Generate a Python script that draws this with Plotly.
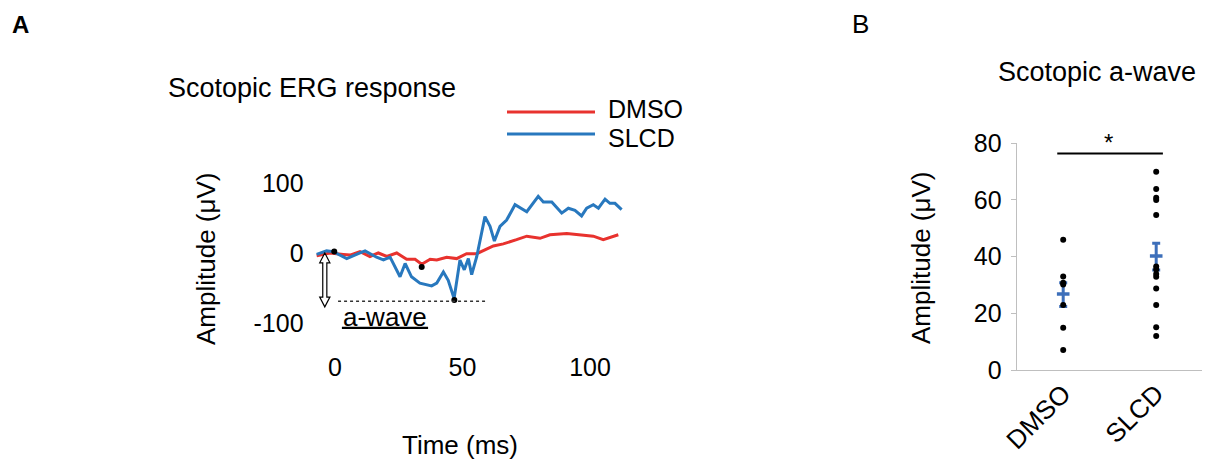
import plotly.graph_objects as go

# ---------------- Panel A data: scotopic ERG traces ----------------
time_slcd = [-7.2, -3.3, -0.7, 4.6, 9.8, 11.8, 16.3, 19.0, 21.6, 25.5, 27.5, 30.0, 33.3,
             37.9, 39.9, 42.5, 44.4, 46.7, 49.0, 50.7, 52.3, 53.6, 55.6, 58.8, 60.8,
             62.5, 64.7, 67.3, 70.6, 75.2, 79.7, 81.7, 85.0, 88.9, 91.5, 94.1, 96.7,
             98.7, 101.3, 103.3, 105.9, 107.8, 109.8, 112.4]
amp_slcd = [-2, 3, 2, -8, 0, 3, -6, -10, -6, -34, -15, -34, -43,
            -47, -43, -27, -39, -65, -10, -24, -8, -31, -5, 52, 38,
            17, 38, 47, 69, 59, 81, 73, 73, 57, 64, 61, 53,
            64, 69, 64, 77, 71, 71, 62]

time_dmso = [-7.2, -2.0, 3.3, 5.9, 9.8, 13.7, 17.0, 20.3, 24.2, 28.1, 31.4, 34.0,
             37.3, 39.9, 43.8, 47.7, 51.6, 55.6, 62.1, 66.0, 71.2, 75.2, 80.4,
             84.3, 90.9, 96.0, 101.3, 105.2, 107.8, 111.1]
amp_dmso = [-4, 0, -2, -3, 2, -5, 0, -5, 0, -9, -9, -16,
            -9, -10, -6, -8, -1, -1, 10, 13, 19, 24, 21,
            26, 28, 26, 24, 19, 22, 26]

mark_t = [-0.3, 34.0, 46.8]
mark_v = [2, -20, -67]
awave_level = -69
a_tickvals = [0, 50, 100]
a_yticks = [-100, 0, 100]
a_yticktext = ["-100", "0", "100"]

# ---------------- Panel B data: a-wave amplitudes ----------------
groups = ["DMSO", "SLCD"]
dmso_vals = [46.0, 33.0, 30.8, 30.2, 22.9, 14.9, 7.1]
slcd_vals = [70.0, 63.9, 60.8, 60.0, 54.7, 36.5, 35.5, 33.9, 32.9, 28.8, 22.9, 15.1, 12.0]
group_means = [26.8, 40.2]
err_plus = [4.0, 4.5]
err_minus = [4.4, 4.9]
b_yticks = [0, 20, 40, 60, 80]
sig_level = 76.4

RED = "#e8322e"
BLUE = "#2878be"
EBLUE = "#3d6fba"
FONT = "Liberation Sans, Arial, sans-serif"
FS = 26      # labels
FT = 27      # titles
FK = 25      # tick labels

# the page adds an 8px body margin, so the figure is drawn 8px smaller
OFF = 8
W, H = 1210 - OFF, 459 - OFF


def px(x):
    return (x - OFF) / W


def py(y):
    return 1 - (y - OFF) / H


fig = go.Figure()

fig.add_trace(go.Scatter(x=time_dmso, y=amp_dmso, mode="lines",
                         line=dict(color=RED, width=3), xaxis="x", yaxis="y",
                         showlegend=False))
fig.add_trace(go.Scatter(x=time_slcd, y=amp_slcd, mode="lines",
                         line=dict(color=BLUE, width=3), xaxis="x", yaxis="y",
                         showlegend=False))
fig.add_trace(go.Scatter(x=mark_t, y=mark_v, mode="markers",
                         marker=dict(color="black", size=6), xaxis="x", yaxis="y",
                         showlegend=False))

# Panel B
fig.add_trace(go.Scatter(x=groups, y=group_means, mode="markers",
                         marker=dict(symbol="line-ew", size=9,
                                     line=dict(color=EBLUE, width=3.5)),
                         error_y=dict(type="data", symmetric=False, array=err_plus,
                                      arrayminus=err_minus, color=EBLUE,
                                      thickness=3, width=4),
                         xaxis="x2", yaxis="y2", showlegend=False))
fig.add_trace(go.Scatter(x=[groups[0]] * len(dmso_vals), y=dmso_vals, mode="markers",
                         marker=dict(color="black", size=6), xaxis="x2", yaxis="y2",
                         showlegend=False))
fig.add_trace(go.Scatter(x=[groups[1]] * len(slcd_vals), y=slcd_vals, mode="markers",
                         marker=dict(color="black", size=6), xaxis="x2", yaxis="y2",
                         showlegend=False))

# double-headed hollow arrow (a-wave amplitude), in data coordinates
xc, hw, sw = -4.0, 2.0, 0.8
top, bot, hh = 0, -77, 14
path = (f"M {xc},{top} L {xc+hw},{top-hh} L {xc+sw},{top-hh} L {xc+sw},{bot+hh} "
        f"L {xc+hw},{bot+hh} L {xc},{bot} L {xc-hw},{bot+hh} L {xc-sw},{bot+hh} "
        f"L {xc-sw},{top-hh} L {xc-hw},{top-hh} Z")

shapes = [
    dict(type="path", path=path, xref="x", yref="y", fillcolor="white",
         line=dict(color="black", width=1.2)),
    dict(type="line", xref="x", yref="y", x0=1.2, x1=59, y0=awave_level, y1=awave_level,
         line=dict(color="#333333", width=1.5, dash="dot")),
    dict(type="line", xref="x", yref="y", x0=2.7, x1=36.5, y0=-107, y1=-107,
         line=dict(color="black", width=2.2)),
    # legend lines
    dict(type="line", xref="paper", yref="paper", x0=px(507), x1=px(595),
         y0=py(112), y1=py(112), line=dict(color=RED, width=3)),
    dict(type="line", xref="paper", yref="paper", x0=px(507), x1=px(595),
         y0=py(134), y1=py(134), line=dict(color=BLUE, width=3)),
    # significance bar
    dict(type="line", xref="x2", yref="y2", x0=-0.064, x1=1.072,
         y0=sig_level, y1=sig_level, line=dict(color="black", width=2)),
]

annotations = [
    dict(text="<b>A</b>", x=px(11), y=py(24), xref="paper", yref="paper",
         xanchor="left", yanchor="middle", showarrow=False, borderpad=0,
         font=dict(size=24, family=FONT, color="black")),
    dict(text="B", x=px(851), y=py(24), xref="paper", yref="paper",
         xanchor="left", yanchor="middle", showarrow=False, borderpad=0,
         font=dict(size=26, family=FONT, color="black")),
    dict(text="Scotopic ERG response", x=px(166), y=py(88), xref="paper", yref="paper",
         xanchor="left", yanchor="middle", showarrow=False,
         font=dict(size=FT, family=FONT, color="black")),
    dict(text="DMSO", x=px(607), y=py(109), xref="paper", yref="paper",
         xanchor="left", yanchor="middle", showarrow=False, borderpad=0,
         font=dict(size=25, family=FONT, color="black")),
    dict(text="SLCD", x=px(607), y=py(138), xref="paper", yref="paper",
         xanchor="left", yanchor="middle", showarrow=False, borderpad=0,
         font=dict(size=25, family=FONT, color="black")),
    dict(text="Amplitude (μV)", x=px(206), y=py(259), xref="paper", yref="paper",
         xanchor="center", yanchor="middle", showarrow=False, textangle=-90,
         font=dict(size=FS, family=FONT, color="black")),
    dict(text="Time (ms)", x=px(460), y=py(445), xref="paper", yref="paper",
         xanchor="center", yanchor="middle", showarrow=False, borderpad=0,
         font=dict(size=FS, family=FONT, color="black")),
    dict(text="a-wave", x=19.6, y=-91, xref="x", yref="y",
         xanchor="center", yanchor="middle", showarrow=False,
         font=dict(size=FS, family=FONT, color="black")),
    dict(text="Scotopic a-wave", x=px(1097), y=py(72), xref="paper", yref="paper",
         xanchor="center", yanchor="middle", showarrow=False,
         font=dict(size=FT, family=FONT, color="black")),
    dict(text="Amplitude (μV)", x=px(921), y=py(258), xref="paper", yref="paper",
         xanchor="center", yanchor="middle", showarrow=False, textangle=-90,
         font=dict(size=FS, family=FONT, color="black")),
    dict(text="*", x=0.49, y=sig_level, xref="x2", yref="y2",
         xanchor="center", yanchor="bottom", showarrow=False, yshift=-4,
         font=dict(size=24, family=FONT, color="black")),
]

fig.update_layout(
    width=W, height=H,
    margin=dict(l=0, r=0, t=0, b=0, pad=0),
    paper_bgcolor="white", plot_bgcolor="white",
    font=dict(family=FONT, size=FS, color="black"),
    showlegend=False,
    xaxis=dict(domain=[px(314.6), px(625.7)], range=[-8, 114], automargin=False,
               tickvals=a_tickvals, showline=False, showgrid=False, zeroline=False,
               ticks="", tickfont=dict(size=FK, color="black"), anchor="y"),
    yaxis=dict(domain=[py(350), py(172.5)], range=[-138.6, 115], automargin=False,
               tickvals=a_yticks, ticktext=a_yticktext,
               showline=False, showgrid=False, zeroline=False,
               ticks="", ticklabelstandoff=10,
               tickfont=dict(size=FK, color="black"), anchor="x"),
    xaxis2=dict(domain=[px(1016.7), px(1202.7)], range=[-0.5, 1.5], automargin=False,
                type="category", categoryorder="array", categoryarray=groups,
                showline=True, linecolor="#bfbfbf", linewidth=1.2, mirror=False,
                showgrid=False, zeroline=False, ticks="", tickangle=-45,
                ticklabelstandoff=-3,
                tickfont=dict(size=FS, color="black"), anchor="y2"),
    yaxis2=dict(domain=[py(370), py(143.3)], range=[0, 80], automargin=False,
                tickvals=b_yticks, showline=True, linecolor="#bfbfbf", linewidth=1.2,
                mirror=True, showgrid=False, zeroline=False, ticks="outside",
                ticklen=5, tickcolor="#bfbfbf", tickwidth=1.2, ticklabelstandoff=4,
                tickfont=dict(size=FK, color="black"), anchor="x2"),
    shapes=shapes,
    annotations=annotations,
)

fig.write_html("out.html")
